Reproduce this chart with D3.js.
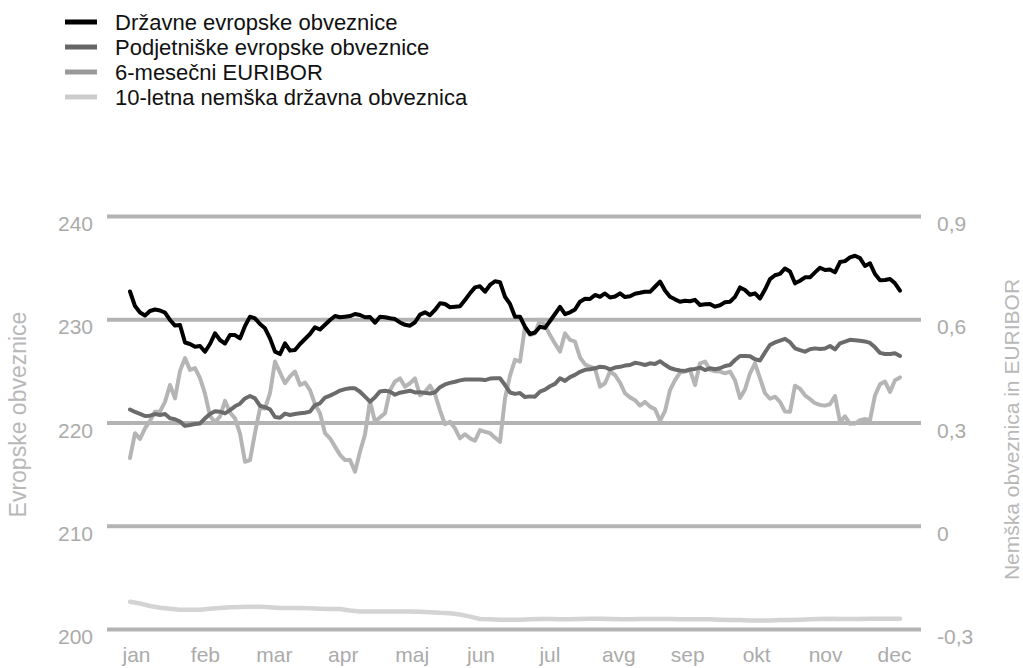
<!DOCTYPE html>
<html>
<head>
<meta charset="utf-8">
<script src="https://cdn.jsdelivr.net/npm/d3@7"></script>
<style>
  html, body { margin: 0; padding: 0; background: #fff; }
  svg { display: block; font-family: "Liberation Sans", Arial, sans-serif; }
</style>
</head>
<body>
<svg id="chart" width="1023" height="668"></svg>
<script>
// ---------------- DATA ----------------
const months = ["jan","feb","mar","apr","maj","jun","jul","avg","sep","okt","nov","dec"];
const leftTicks = [200, 210, 220, 230, 240];
const rightTicks = [-0.3, 0, 0.3, 0.6, 0.9];
const rightTickLabels = ["-0,3", "0", "0,3", "0,6", "0,9"];
const seriesNames = [
  "Državne evropske obveznice",
  "Podjetniške evropske obveznice",
  "6-mesečni EURIBOR",
  "10-letna nemška državna obveznica"
];
const leftAxisTitle = "Evropske obveznice";
const rightAxisTitle = "Nemška obveznica in EURIBOR";

// Državne evropske obveznice (left axis)
const govBonds = [
  232.69,231.28,230.65,230.36,230.80,230.94,230.85,230.65,229.93,229.39,
  229.44,227.75,227.60,227.34,227.41,226.85,227.60,228.64,227.99,227.65,
  228.47,228.47,228.14,229.35,230.25,230.08,229.54,229.12,228.15,226.86,
  226.63,227.67,226.96,227.02,227.60,228.09,228.57,229.22,229.01,229.47,
  229.93,230.31,230.19,230.25,230.31,230.51,230.41,230.19,230.22,229.67,
  230.25,230.19,230.09,230.02,229.69,229.46,229.38,229.71,230.45,230.67,
  230.39,230.90,231.54,231.48,231.16,231.22,231.25,231.86,232.51,233.09,
  233.19,232.67,233.32,233.68,233.59,232.18,231.48,230.25,230.25,229.25,
  228.57,228.72,229.28,229.16,229.83,230.51,231.19,230.49,230.67,230.94,
  231.70,231.98,231.96,232.35,232.18,232.50,232.11,232.20,232.51,232.15,
  232.22,232.47,232.56,232.67,232.66,233.15,233.65,232.78,232.18,231.93,
  231.70,231.79,231.74,231.88,231.38,231.46,231.48,231.22,231.36,231.64,
  231.70,232.17,233.08,232.83,232.37,232.51,232.01,232.88,233.89,234.26,
  234.39,234.92,234.62,233.48,233.73,234.06,234.06,234.54,234.99,234.77,
  234.81,234.54,235.54,235.63,235.99,236.15,235.92,235.16,235.42,234.38,
  233.78,233.80,233.90,233.48,232.77
];

// Podjetniške evropske obveznice (left axis)
const corpBonds = [
  221.26,221.02,220.84,220.63,220.66,220.82,220.73,220.82,220.41,220.31,
  220.09,219.67,219.76,219.85,219.91,220.40,220.82,221.09,221.05,220.89,
  221.20,221.57,221.82,222.33,222.57,222.34,221.62,221.48,221.28,220.53,
  220.46,220.86,220.73,220.82,220.89,220.95,221.05,221.69,221.86,222.42,
  222.60,222.83,223.09,223.23,223.31,223.31,222.98,222.50,222.02,222.45,
  223.01,223.08,222.99,222.69,222.89,222.98,223.08,222.91,222.94,222.87,
  222.81,222.92,223.42,223.69,223.84,223.95,224.08,224.16,224.16,224.17,
  224.17,224.11,224.25,224.28,224.28,223.63,222.91,222.77,222.85,222.46,
  222.53,222.50,223.00,223.18,223.51,223.74,224.28,224.03,224.40,224.61,
  224.91,225.10,225.15,225.25,225.40,225.35,225.15,225.32,225.39,225.51,
  225.57,225.78,225.70,225.57,225.73,225.67,225.94,225.59,225.28,225.13,
  225.03,225.00,225.13,225.19,225.32,225.08,225.25,225.15,225.25,225.47,
  225.57,226.05,226.44,226.44,226.42,226.12,226.00,226.79,227.51,227.76,
  227.93,228.10,227.78,227.19,227.02,226.86,227.09,227.18,227.11,227.17,
  227.41,227.08,227.67,227.83,228.01,227.97,227.92,227.85,227.71,227.28,
  226.74,226.63,226.63,226.70,226.44
];

// 6-mesečni EURIBOR (right axis)
const euribor6m = [
  0.197,0.269,0.252,0.283,0.305,0.331,0.332,0.360,0.409,0.370,
  0.450,0.487,0.453,0.458,0.429,0.384,0.319,0.301,0.317,0.363,
  0.329,0.312,0.268,0.186,0.191,0.270,0.342,0.341,0.385,0.477,
  0.445,0.414,0.434,0.448,0.409,0.416,0.394,0.353,0.327,0.269,
  0.254,0.230,0.206,0.191,0.191,0.157,0.215,0.265,0.362,0.302,
  0.315,0.327,0.394,0.419,0.428,0.404,0.414,0.428,0.379,0.389,
  0.407,0.382,0.335,0.295,0.302,0.283,0.254,0.266,0.254,0.247,
  0.278,0.273,0.269,0.256,0.244,0.370,0.436,0.482,0.477,0.578,
  0.554,0.559,0.598,0.583,0.554,0.529,0.506,0.559,0.540,0.535,
  0.489,0.469,0.462,0.457,0.404,0.414,0.448,0.438,0.416,0.385,
  0.373,0.365,0.349,0.360,0.346,0.339,0.305,0.333,0.394,0.423,
  0.445,0.448,0.453,0.409,0.472,0.477,0.453,0.449,0.448,0.443,
  0.448,0.423,0.371,0.396,0.443,0.472,0.428,0.385,0.369,0.375,
  0.360,0.332,0.331,0.407,0.398,0.379,0.368,0.356,0.351,0.349,
  0.353,0.377,0.302,0.318,0.296,0.297,0.307,0.310,0.307,0.379,
  0.411,0.419,0.389,0.423,0.431
];

// 10-letna nemška državna obveznica (right axis)
const bund10y = [
  -0.221,-0.226,-0.233,-0.238,-0.241,-0.244,-0.244,-0.244,-0.241,-0.239,
  -0.237,-0.236,-0.235,-0.235,-0.237,-0.239,-0.239,-0.239,-0.240,-0.241,
  -0.242,-0.242,-0.246,-0.249,-0.249,-0.249,-0.249,-0.249,-0.249,-0.250,
  -0.251,-0.253,-0.254,-0.258,-0.264,-0.271,-0.272,-0.273,-0.273,-0.273,
  -0.272,-0.271,-0.271,-0.272,-0.272,-0.271,-0.270,-0.270,-0.271,-0.272,
  -0.272,-0.271,-0.271,-0.271,-0.271,-0.272,-0.272,-0.272,-0.272,-0.273,
  -0.274,-0.274,-0.275,-0.275,-0.275,-0.274,-0.274,-0.273,-0.272,-0.271,
  -0.270,-0.271,-0.271,-0.271,-0.270,-0.270,-0.270,-0.270
];

// ---------------- STYLE / LAYOUT ----------------
const lineColors   = ["#000000", "#6b6b6b", "#b5b5b5", "#d4d4d4"];
const legendColors = ["#000000", "#666666", "#999999", "#cccccc"];
const gridColor = "#b3b3b3";
const tickColor = "#ababab";
const titleColor = "#b8b8b8";

const plot = { left: 107, right: 921, top: 216, bottom: 629, dataLeft: 130, dataRight: 900 };

const svg = d3.select("#chart");

const yLeft = d3.scaleLinear().domain([200, 240]).range([plot.bottom, plot.top]);
const yRight = d3.scaleLinear().domain([-0.3, 0.9]).range([plot.bottom, plot.top]);
const xMonth = d3.scalePoint().domain(months).range([136, 894]);
const xFor = arr => d3.scaleLinear().domain([0, arr.length - 1]).range([plot.dataLeft, plot.dataRight]);

// ---------------- AXES / GRID ----------------
const leftAxis = d3.axisLeft(yLeft)
  .tickValues(leftTicks)
  .tickSize(-(plot.right - plot.left))
  .tickPadding(14)
  .tickFormat(d3.format("d"));
const gL = svg.append("g").attr("transform", `translate(${plot.left},0)`).call(leftAxis);
gL.select(".domain").remove();
gL.selectAll(".tick line").attr("stroke", gridColor).attr("stroke-width", 4);
gL.selectAll(".tick text")
  .attr("fill", tickColor).attr("font-size", 21).attr("dy", null)
  .attr("y", 7).attr("dominant-baseline", "central");

const rightAxis = d3.axisRight(yRight)
  .tickValues(rightTicks)
  .tickSize(0)
  .tickPadding(16)
  .tickFormat((d, i) => rightTickLabels[i]);
const gR = svg.append("g").attr("transform", `translate(${plot.right},0)`).call(rightAxis);
gR.select(".domain").remove();
gR.selectAll(".tick text")
  .attr("fill", tickColor).attr("font-size", 21).attr("dy", null)
  .attr("y", 7).attr("dominant-baseline", "central");

const bottomAxis = d3.axisBottom(xMonth).tickSize(0).tickPadding(0);
const gB = svg.append("g").attr("transform", `translate(0,${plot.bottom})`).call(bottomAxis);
gB.select(".domain").remove();
gB.selectAll(".tick text")
  .attr("fill", tickColor).attr("font-size", 21).attr("dy", null)
  .attr("y", 33);

// axis titles
svg.append("text")
  .attr("transform", `translate(26,${(plot.top + plot.bottom) / 2 - 8}) rotate(-90)`)
  .attr("text-anchor", "middle")
  .attr("fill", titleColor).attr("font-size", 23)
  .text(leftAxisTitle);
svg.append("text")
  .attr("transform", `translate(1019,${(plot.top + plot.bottom) / 2 + 7}) rotate(-90)`)
  .attr("text-anchor", "middle")
  .attr("fill", titleColor).attr("font-size", 21)
  .text(rightAxisTitle);

// ---------------- LINES ----------------
const series = [
  { values: bund10y,   scale: yRight, color: lineColors[3], width: 4.5 },
  { values: euribor6m, scale: yRight, color: lineColors[2], width: 4 },
  { values: corpBonds, scale: yLeft,  color: lineColors[1], width: 4 },
  { values: govBonds,  scale: yLeft,  color: lineColors[0], width: 4 }
];
series.forEach(s => {
  const x = xFor(s.values);
  const line = d3.line().x((d, i) => x(i)).y(d => s.scale(d));
  svg.append("path")
    .datum(s.values)
    .attr("d", line)
    .attr("fill", "none")
    .attr("stroke", s.color)
    .attr("stroke-width", s.width)
    .attr("stroke-linejoin", "round")
    .attr("stroke-linecap", "round");
});

// ---------------- LEGEND ----------------
const legend = svg.append("g").attr("transform", "translate(65,22)");
const rows = legend.selectAll("g").data(seriesNames).join("g")
  .attr("transform", (d, i) => `translate(0,${i * 25})`);
rows.append("line")
  .attr("x1", 0).attr("x2", 32).attr("y1", 0).attr("y2", 0)
  .attr("stroke", (d, i) => legendColors[i]).attr("stroke-width", 5);
rows.append("text")
  .attr("x", 50).attr("y", 0).attr("dominant-baseline", "central")
  .attr("font-size", 22).attr("fill", "#111")
  .text(d => d);
</script>
</body>
</html>
